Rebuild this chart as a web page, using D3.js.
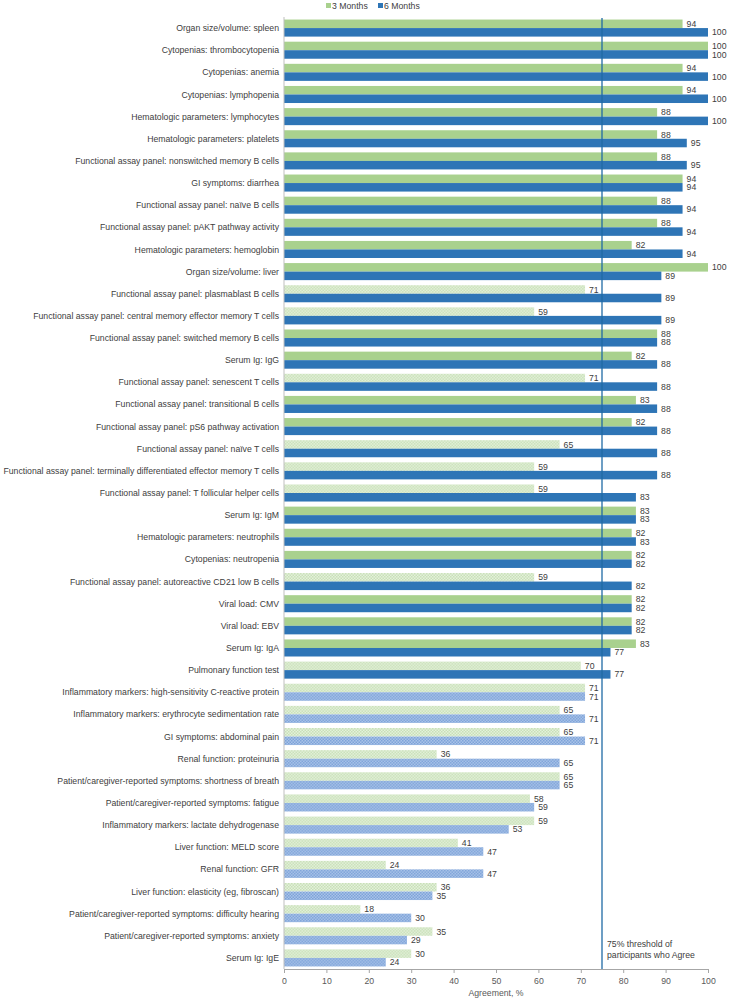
<!DOCTYPE html>
<html lang="en">
<head>
    <meta charset="UTF-8" />
    <title>Agreement by parameter - 3 vs 6 months</title>
    <script src="https://d3js.org/d3.v7.min.js"></script>
    <style>
        body { margin: 0; background: #fff; }
        text { font-family: "Liberation Sans", Arial, sans-serif; }
    </style>
</head>
<body>
    <script>
        var categories = [
            "Organ size/volume: spleen",
            "Cytopenias: thrombocytopenia",
            "Cytopenias: anemia",
            "Cytopenias: lymphopenia",
            "Hematologic parameters: lymphocytes",
            "Hematologic parameters: platelets",
            "Functional assay panel: nonswitched memory B cells",
            "GI symptoms: diarrhea",
            "Functional assay panel: naïve B cells",
            "Functional assay panel: pAKT pathway activity",
            "Hematologic parameters: hemoglobin",
            "Organ size/volume: liver",
            "Functional assay panel: plasmablast B cells",
            "Functional assay panel: central memory effector memory T cells",
            "Functional assay panel: switched memory B cells",
            "Serum Ig: IgG",
            "Functional assay panel: senescent T cells",
            "Functional assay panel: transitional B cells",
            "Functional assay panel: pS6 pathway activation",
            "Functional assay panel: naïve T cells",
            "Functional assay panel: terminally differentiated effector memory T cells",
            "Functional assay panel: T follicular helper cells",
            "Serum Ig: IgM",
            "Hematologic parameters: neutrophils",
            "Cytopenias: neutropenia",
            "Functional assay panel: autoreactive CD21 low B cells",
            "Viral load: CMV",
            "Viral load: EBV",
            "Serum Ig: IgA",
            "Pulmonary function test",
            "Inflammatory markers: high-sensitivity C-reactive protein",
            "Inflammatory markers: erythrocyte sedimentation rate",
            "GI symptoms: abdominal pain",
            "Renal function: proteinuria",
            "Patient/caregiver-reported symptoms: shortness of breath",
            "Patient/caregiver-reported symptoms: fatigue",
            "Inflammatory markers: lactate dehydrogenase",
            "Liver function: MELD score",
            "Renal function: GFR",
            "Liver function: elasticity (eg, fibroscan)",
            "Patient/caregiver-reported symptoms: difficulty hearing",
            "Patient/caregiver-reported symptoms: anxiety",
            "Serum Ig: IgE"
        ];

        var months3 = [94, 100, 94, 94, 88, 88, 88, 94, 88, 88, 82, 100, 71, 59, 88, 82, 71, 83, 82, 65,
            59, 59, 83, 82, 82, 59, 82, 82, 83, 70, 71, 65, 65, 36, 65, 58, 59, 41, 24, 36, 18, 35, 30];
        var months6 = [100, 100, 100, 100, 100, 95, 95, 94, 94, 94, 94, 89, 89, 89, 88, 88, 88, 88, 88, 88,
            88, 83, 83, 83, 82, 82, 82, 82, 77, 77, 71, 71, 71, 65, 65, 59, 53, 47, 47, 35, 30, 29, 24];

        var seriesNames = ["3 Months", "6 Months"];
        var xTicks = [0, 10, 20, 30, 40, 50, 60, 70, 80, 90, 100];
        var threshold = 75;

        var w = 729;
        var h = 999;
        var plotLeft = 284, plotRight = 708, plotTop = 17, plotBottom = 969;
        var fs = "8.7px";

        var solidColors = ["#a9d18e", "#2e75b6"];

        var svg = d3.select("body")
            .append("svg")
            .attr("width", w)
            .attr("height", h);

        // checker patterns for the bars under the threshold
        var defs = svg.append("defs");
        var patterns = [
            { id: "pat0", base: "#e4f0dc", dot: "#c8e1b7" },
            { id: "pat1", base: "#a9c3e8", dot: "#7ea3d9" }
        ];
        patterns.forEach(function (p) {
            var pat = defs.append("pattern")
                .attr("id", p.id)
                .attr("width", 3)
                .attr("height", 3)
                .attr("patternUnits", "userSpaceOnUse");
            pat.append("rect").attr("width", 3).attr("height", 3).attr("fill", p.base);
            pat.append("rect").attr("width", 1.5).attr("height", 1.5).attr("fill", p.dot);
            pat.append("rect").attr("x", 1.5).attr("y", 1.5).attr("width", 1.5).attr("height", 1.5).attr("fill", p.dot);
        });

        var xScale = d3.scaleLinear()
            .domain([0, 100])
            .range([plotLeft, plotRight]);

        var yScale = d3.scaleBand()
            .domain(categories)
            .range([plotTop, plotBottom])
            .paddingInner(0.23)
            .paddingOuter(0.115);

        var inner = d3.scaleBand()
            .domain([0, 1])
            .range([0, yScale.bandwidth()]);

        var rows = categories.map(function (c, i) {
            return { cat: c, vals: [months3[i], months6[i]] };
        });

        var groups = svg.selectAll("g.row")
            .data(rows)
            .enter()
            .append("g")
            .attr("class", "row")
            .attr("transform", function (d) { return "translate(0," + yScale(d.cat) + ")"; });

        groups.selectAll("rect")
            .data(function (d) { return d.vals; })
            .enter()
            .append("rect")
            .attr("x", xScale(0))
            .attr("y", function (d, i) { return inner(i); })
            .attr("width", function (d) { return xScale(d) - xScale(0); })
            .attr("height", inner.bandwidth())
            .attr("fill", function (d, i) {
                return d < threshold ? "url(#pat" + i + ")" : solidColors[i];
            });

        groups.selectAll("text")
            .data(function (d) { return d.vals; })
            .enter()
            .append("text")
            .text(function (d) { return d; })
            .attr("x", function (d) { return xScale(d) + 4; })
            .attr("y", function (d, i) { return inner(i) + inner.bandwidth() / 2; })
            .attr("dy", "0.35em")
            .attr("fill", "#404040")
            .attr("font-size", fs);

        // category labels
        svg.selectAll("text.cat")
            .data(categories)
            .enter()
            .append("text")
            .attr("class", "cat")
            .text(function (d) { return d; })
            .attr("x", plotLeft - 5)
            .attr("y", function (d) { return yScale(d) + yScale.bandwidth() / 2; })
            .attr("dy", "0.35em")
            .attr("text-anchor", "end")
            .attr("fill", "#404040")
            .attr("font-size", fs);

        // y axis line
        svg.append("line")
            .attr("x1", plotLeft).attr("x2", plotLeft)
            .attr("y1", plotTop).attr("y2", plotBottom)
            .attr("stroke", "#bfbfbf");

        var xAxis = d3.axisBottom(xScale).tickValues(xTicks).tickSize(4).tickSizeOuter(4);
        var gx = svg.append("g")
            .attr("class", "x axis")
            .attr("transform", "translate(0," + plotBottom + ")")
            .call(xAxis);
        gx.select(".domain").attr("stroke", "#a6a6a6");
        gx.selectAll(".tick line").attr("stroke", "#a6a6a6");
        gx.selectAll(".tick text")
            .attr("fill", "#595959")
            .attr("font-family", "Liberation Sans, Arial, sans-serif")
            .attr("font-size", fs)
            .attr("dy", "0.9em");

        svg.append("text")
            .text("Agreement, %")
            .attr("x", (plotLeft + plotRight) / 2)
            .attr("y", 996)
            .attr("text-anchor", "middle")
            .attr("fill", "#595959")
            .attr("font-size", fs);

        // threshold line
        svg.append("line")
            .attr("x1", xScale(threshold)).attr("x2", xScale(threshold))
            .attr("y1", plotTop + 1).attr("y2", plotBottom)
            .attr("stroke", "#1f6aa5")
            .attr("stroke-width", 1.3);

        svg.append("text")
            .attr("x", xScale(threshold) + 5)
            .attr("y", 947)
            .attr("fill", "#404040")
            .attr("font-size", fs)
            .selectAll("tspan")
            .data(["75% threshold of", "participants who Agree"])
            .enter()
            .append("tspan")
            .attr("x", xScale(threshold) + 5)
            .attr("dy", function (d, i) { return i === 0 ? 0 : 11; })
            .text(function (d) { return d; });

        // legend
        var legend = svg.append("g").attr("transform", "translate(326,0)");
        seriesNames.forEach(function (s, i) {
            var lg = legend.append("g").attr("transform", "translate(" + (i * 52) + ",0)");
            lg.append("rect")
                .attr("x", 0).attr("y", 3)
                .attr("width", 5).attr("height", 5)
                .attr("fill", solidColors[i]);
            lg.append("text")
                .text(s)
                .attr("x", 6)
                .attr("y", 5.5)
                .attr("dy", "0.35em")
                .attr("fill", "#404040")
                .attr("font-size", fs);
        });
    </script>
</body>
</html>
